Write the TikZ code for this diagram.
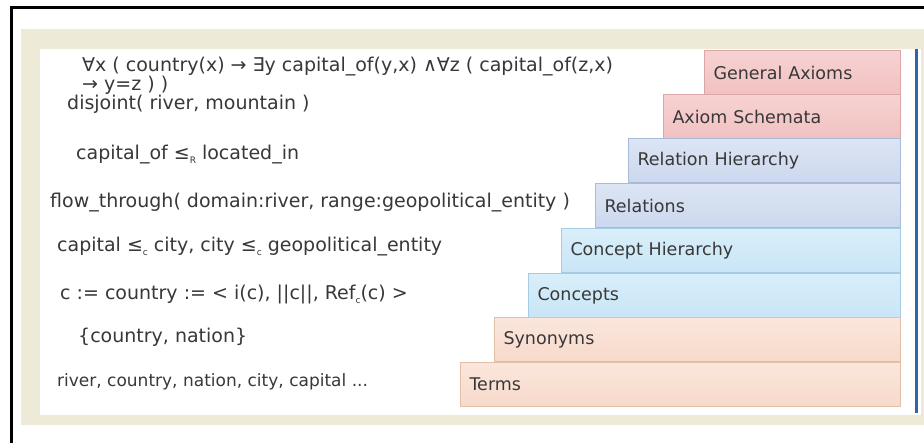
\documentclass[tikz,border=0pt]{standalone}
\usepackage{fontspec}
\setmainfont{DejaVu Sans}
\definecolor{framebeige}{HTML}{EEEAD8}
\definecolor{sidebar}{HTML}{3563A8}
\definecolor{txtgray}{HTML}{383838}
\definecolor{pinkTop}{HTML}{F7D2D2}\definecolor{pinkBot}{HTML}{F2C1C1}\definecolor{pinkEdge}{HTML}{DBA6A6}
\definecolor{lavTop}{HTML}{DCE5F4}\definecolor{lavBot}{HTML}{CCD8EE}\definecolor{lavEdge}{HTML}{A9BBD8}
\definecolor{skyTop}{HTML}{D9EFFA}\definecolor{skyBot}{HTML}{C9E5F6}\definecolor{skyEdge}{HTML}{A5CCE2}
\definecolor{peachTop}{HTML}{FBE6DC}\definecolor{peachBot}{HTML}{F7DACB}\definecolor{peachEdge}{HTML}{E3BFAA}
\tikzset{
  layer/.style={draw=#1Edge, top color=#1Top, bottom color=#1Bot, line width=1pt,
    anchor=north west, minimum height=44, inner xsep=9pt, align=left,
    text=txtgray, font=\fontsize{17.5}{20}\selectfont},
  fact/.style={anchor=mid west, inner sep=0pt, text=txtgray, font=\fontsize{19}{22}\selectfont}
}
\newcommand{\subrel}[1]{\raisebox{-0.35ex}{\fontsize{9}{9}\selectfont #1}}
\begin{document}
\begin{tikzpicture}[x=1pt,y=-1pt]
\useasboundingbox (0,0) rectangle (924,443);
% frame of the slide
\fill[framebeige] (21,29) rectangle (924,425);
\fill[white] (40,49) rectangle (921,415);
\draw[sidebar, line width=3pt] (916,49) -- (916,413);
\draw[line width=3pt] (924,8) -- (11,8) -- (11,443);
% the layers
\foreach \lx/\ty/\clr/\nm/\txt in {704/50/pink/genax/General Axioms,
  663/94/pink/axsch/Axiom Schemata, 628/138/lav/relhier/Relation Hierarchy,
  595/183/lav/rels/Relations, 561/228/sky/conhier/Concept Hierarchy,
  528/273/sky/cons/Concepts, 494/317/peach/syns/Synonyms, 460/362/peach/terms/Terms}
{
  \pgfmathsetmacro\tw{900-\lx-18}
  \node[layer=\clr, text width=\tw] (\nm) at (\lx,\ty) {\txt};
}
% examples
\node[fact] (exgenax) at (82,69) {∀x ( country(x) → ∃y capital\_of(y,x) ∧∀z ( capital\_of(z,x)};
\node[fact] (exgenaxb) at (82,88) {→ y=z ) )};
\node[fact] (exaxsch) at (67,107) {disjoint( river, mountain )};
\node[fact] (exrelhier) at (76,157) {capital\_of ≤\subrel{R} located\_in};
\node[fact] (exrels) at (50,205) {flow\_through( domain:river, range:geopolitical\_entity )};
\node[fact] (exconhier) at (57,249) {capital ≤\subrel{c} city, city ≤\subrel{c} geopolitical\_entity};
\node[fact] (excons) at (60,297) {c := country := < i(c), ||c||, Ref\subrel{c}(c) >};
\node[fact] (exsyns) at (78,340) {\{country, nation\}};
\node[fact, font=\fontsize{17}{20}\selectfont] (exterms) at (57,384) {river, country, nation, city, capital ...};
\end{tikzpicture}
\end{document}
